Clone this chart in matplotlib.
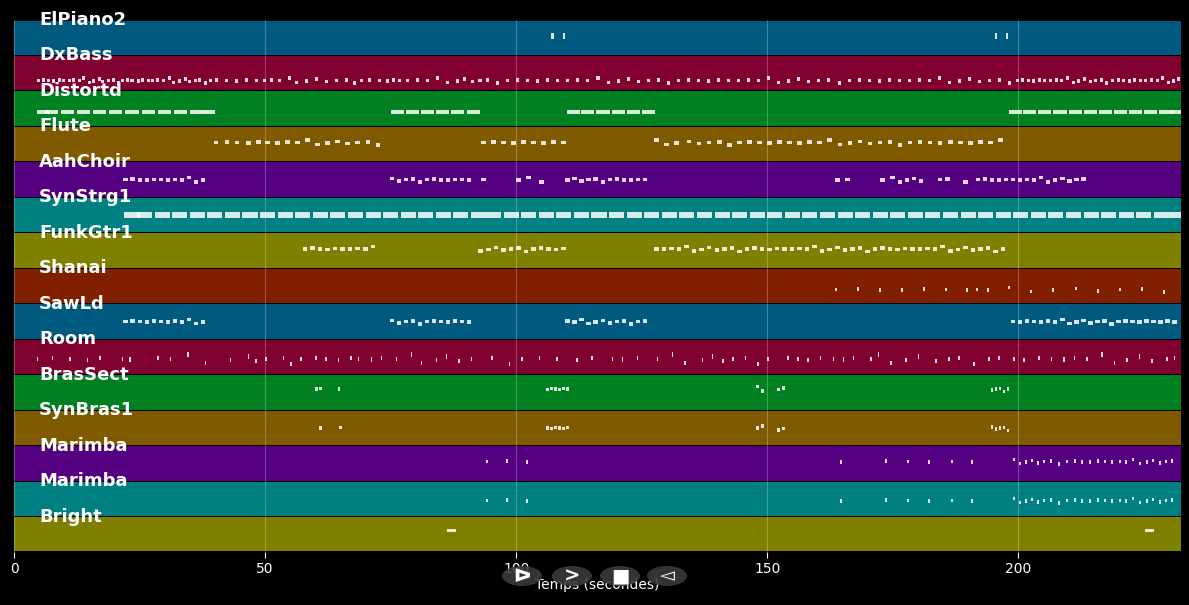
import matplotlib
matplotlib.use("Agg")
import matplotlib.pyplot as plt
from matplotlib.patches import Rectangle, Ellipse

tracks = ["ElPiano2", "DxBass", "Distortd", "Flute", "AahChoir", "SynStrg1", "FunkGtr1",
          "Shanai", "SawLd", "Room", "BrasSect", "SynBras1", "Marimba", "Marimba", "Bright"]
band_colors = ["#005a80", "#800030", "#008020", "#805a00", "#550080", "#008080", "#808000",
               "#802000", "#005a80", "#800030", "#008020", "#805a00", "#550080", "#008080", "#808000"]

# note start times (s), per track
notes = {
 0: [107, 109.3, 195.3, 197.5],
 1: [4.5, 5.5, 6.6, 7.5, 8.8, 9.6, 10.8, 11.6, 12.8, 13.5, 14.8, 15.6, 16.7, 17.4, 18.5, 19.6, 20.5, 21.4,
     22.4, 23.2, 24.4, 25.3, 26.5, 27.3, 28.2, 29.5, 30.6, 31.5, 32.7, 33.8, 34.6, 35.8, 36.6, 37.8, 38.8,
     40, 42, 44, 46, 48, 49.5, 51, 52.5, 54.5, 56, 58, 60, 62, 64, 66, 67.5, 69, 70.5, 72.5, 74, 75.2, 76.4,
     78, 80, 82, 84, 86, 88, 89.5, 91, 92.5, 94, 96, 98, 100, 102, 104, 106, 108, 110, 112, 114, 116, 118,
     120, 122, 124, 126, 128, 130, 132, 134, 136, 138, 140, 142, 144, 146, 148, 150, 152, 154, 156, 158,
     160, 162, 164, 166, 168, 170, 172, 174, 176, 178, 180, 182, 184, 186, 188, 190, 192, 194, 196, 198,
     199.5, 200.6, 201.8, 202.8, 204, 205, 206.2, 207.3, 208.4, 209.5, 210.6, 211.6, 212.8, 214, 215, 216.2,
     217.3, 218.5, 219.6, 220.6, 221.8, 222.9, 224, 225.1, 226.2, 227.4, 228.5, 229.6, 230.7, 231.6],
 2: [4.5, 6.2, 9.4, 12.6, 15.8, 19, 22.2, 25.4, 28.6, 31.8, 35, 37.5,
     75, 78, 81, 84, 87, 90.3,
     110.2, 113, 116, 119, 122, 125,
     198.2, 201, 204, 207, 210, 213, 216, 219, 222, 225, 228, 230.5],
 3: [39.8, 42, 44, 46.3, 48.2, 50, 52, 54, 56, 58, 60, 62, 64, 66, 68, 70, 72,
     93, 95, 97, 99, 101, 103, 105, 107, 109,
     127.5, 129.5, 131.5, 134, 136, 138, 140, 142, 144, 146, 148, 150, 152, 154, 156, 158, 160, 162, 164,
     166, 168, 170, 172, 174, 176, 178, 180, 182, 184, 186, 188, 190, 192, 194, 196],
 4: [21.8, 23.2, 24.6, 26, 27.4, 28.8, 30.2, 31.6, 33, 34.4, 35.8, 37.2,
     74.8, 76.2, 77.6, 79, 80.4, 81.8, 83.2, 84.6, 86, 87.4, 88.8, 90.2,
     93, 100, 102, 104.6,
     109.8, 111.2, 112.6, 114, 115.4, 116.8, 118.2, 119.6, 121, 122.4, 123.8, 125.2,
     163.5, 165.5, 172.5, 174.5, 176, 177.4, 178.8, 180.2, 184, 185.5, 189,
     191.5, 192.9, 194.3, 195.7, 197.1, 198.5, 199.9, 201.3, 202.7, 204.1, 205.5, 206.9, 208.3, 209.7, 211.1, 212.5],
 5: [22, 24.5, 28, 31.5, 35, 38.5, 42, 45.5, 49, 52.5, 56, 59.5, 63, 66.5, 70, 73.5, 77, 80.5, 84, 87.5,
     91, 94, 97.5, 101, 104.5, 108, 111.5, 115, 118.5, 122, 125.5, 129, 132.5, 136, 139.5, 143, 146.5, 150,
     153.5, 157, 160.5, 164, 167.5, 171, 174.5, 178, 181.5, 185, 188.5, 192, 195.5, 199, 202.5, 206, 209.5,
     213, 216.5, 220, 223.5, 227, 230],
 6: [57.5, 59, 60.5, 62, 63.5, 65, 66.5, 68, 69.5, 71,
     92.5, 94, 95.5, 97, 98.5, 100, 101.5, 103, 104.5, 106, 107.5, 109,
     127.5, 129, 130.5, 132, 133.5, 135, 136.5, 138, 139.5, 141, 142.5, 144, 145.5, 147, 148.5, 150, 151.5,
     153, 154.5, 156, 157.5, 159, 160.5, 162, 163.5, 165, 166.5, 168, 169.5, 171, 172.5, 174, 175.5, 177,
     178.5, 180, 181.5, 183, 184.5, 186, 187.5, 189, 190.5, 192, 193.5, 195, 196.5],
 7: [163.5, 167.8, 172.2, 176.6, 181, 185.4, 189.6, 191.6, 193.8, 198, 202.4, 206.8, 211.2, 215.6, 220, 224.4, 228.8],
 8: [21.8, 23.2, 24.6, 26, 27.4, 28.8, 30.2, 31.6, 33, 34.4, 35.8, 37.2,
     74.8, 76.2, 77.6, 79, 80.4, 81.8, 83.2, 84.6, 86, 87.4, 88.8, 90.2,
     109.8, 111.2, 112.6, 114, 115.4, 116.8, 118.2, 119.6, 121, 122.4, 123.8, 125.2,
     198.5, 199.9, 201.3, 202.7, 204.1, 205.5, 206.9, 208.3, 209.7, 211.1, 212.5, 213.9, 215.3, 216.7, 218.1,
     219.5, 220.9, 222.3, 223.7, 225.1, 226.5, 227.9, 229.3, 230.7],
 9: [4.5, 7.5, 11, 14.5, 17, 21.5, 23, 28.5, 31, 34.5, 38, 43, 46.5, 48, 50, 53.5, 55, 57, 60, 62, 64.5,
     67, 68.5, 71, 73, 76, 79, 81, 84, 86, 88.5, 91, 95, 98.5, 101, 104.5, 108, 112, 115, 119, 121, 124,
     128, 131, 133.5, 137, 139, 141, 143, 145.5, 148, 150, 154, 156, 158, 160.5, 163, 165, 167, 170.5, 172,
     174.5, 177.5, 180, 183.5, 186, 188, 191, 194, 196, 199, 201, 204, 206.5, 209, 211, 213.5, 216.5, 219,
     221.5, 224, 226.5, 229.5, 231],
 10: [60, 60.8, 64.5, 106, 106.8, 107.6, 108.4, 109.2, 110, 147.8, 148.8, 152, 153,
      194.5, 195.3, 196.1, 196.9, 197.7],
 11: [60.8, 64.8, 106, 106.8, 107.6, 108.4, 109.2, 110, 147.8, 148.8, 152, 153,
      194.5, 195.3, 196.1, 196.9, 197.7],
 12: [94, 98, 102, 164.5, 173.5, 177.8, 182, 186.5, 190.5, 199, 200.2, 201.4, 202.6, 203.8, 205, 206.4,
      208, 209.4, 211, 212.5, 214, 215.6, 217, 218.5, 220, 221.2, 222.6, 224, 225.4, 226.6, 228, 229.2, 230.5],
 13: [94, 98, 102, 164.5, 173.5, 177.8, 182, 186.5, 190.5, 199, 200.2, 201.4, 202.6, 203.8, 205, 206.4,
      208, 209.4, 211, 212.5, 214, 215.6, 217, 218.5, 220, 221.2, 222.6, 224, 225.4, 226.6, 228, 229.2, 230.5],
 14: [86.3, 225.3],
}
# note duration (s), vertical position in band (0 top .. 1 bottom), note height (fraction), pitch jitter
durations = [0.5, 0.6, 2.6, 0.9, 0.9, 3.0, 0.9, 0.4, 0.9, 0.3, 0.5, 0.5, 0.4, 0.4, 1.8]
ypos = [0.45, 0.7, 0.6, 0.45, 0.5, 0.5, 0.45, 0.6, 0.5, 0.55, 0.4, 0.5, 0.45, 0.55, 0.4]
heights = [0.16, 0.1, 0.12, 0.1, 0.1, 0.15, 0.1, 0.1, 0.1, 0.12, 0.1, 0.1, 0.1, 0.1, 0.1]
jitter = [0.0, -0.05, 0.02, 0.05, -0.03, 0.0, 0.04, -0.02, 0.03, -0.2, 0.2, 0.05, -0.1, 0.12, 0.0, -0.05, 0.25]

xticks = [0, 50, 100, 150, 200]
xmax = 232.4

fig = plt.figure(figsize=(11.89, 6.05), dpi=100, facecolor="black")
ax = fig.add_axes([14/1189, 1 - 552/605, (1181-14)/1189, (552-20)/605])
ax.set_facecolor("black")
n = len(tracks)
ax.set_xlim(0, xmax)
ax.set_ylim(n, 0)
for i, name in enumerate(tracks):
    ax.add_patch(Rectangle((0, i + 0.015), xmax, 0.97, facecolor=band_colors[i], edgecolor="none", zorder=1))
    ax.text(5, i, name, color="white", fontsize=13, fontweight="bold", va="center", ha="left", zorder=5)
    h = heights[i]
    for k, t in enumerate(notes[i]):
        j = 0.0 if i in (2, 5, 14, 0) else jitter[k % len(jitter)] * (0.5 if i != 9 else 1.0)
        y = i + ypos[i] + j * 0.6
        ax.add_patch(Rectangle((t, y - h / 2), durations[i], h, facecolor="white", alpha=0.85,
                               edgecolor="none", zorder=3))
for x in xticks:
    ax.axvline(x, color="white", alpha=0.25, lw=0.8, zorder=2)
ax.set_xticks(xticks)
ax.set_xticklabels([str(x) for x in xticks], color="white", fontsize=10)
ax.tick_params(axis="x", colors="white", length=4)
ax.set_yticks([])
for s in ax.spines.values():
    s.set_visible(False)
ax.set_xlabel("Temps (secondes)", color="white", fontsize=10, labelpad=1)

# overlay player buttons
for cx, glyph in [(522, "ᐅ"), (572, ">"), (620, "■"), (667, "◅")]:
    fig.patches.append(Ellipse((cx/1189, 1 - 576/605), 40/1189, 20/605, transform=fig.transFigure,
                               facecolor="#3a3a3a", edgecolor="none", alpha=0.9))
    fig.text(cx/1189, 1 - 576/605, glyph, color="white", fontsize=14, fontweight="bold",
             ha="center", va="center")

fig.savefig("out.png", dpi=100, facecolor="black")
